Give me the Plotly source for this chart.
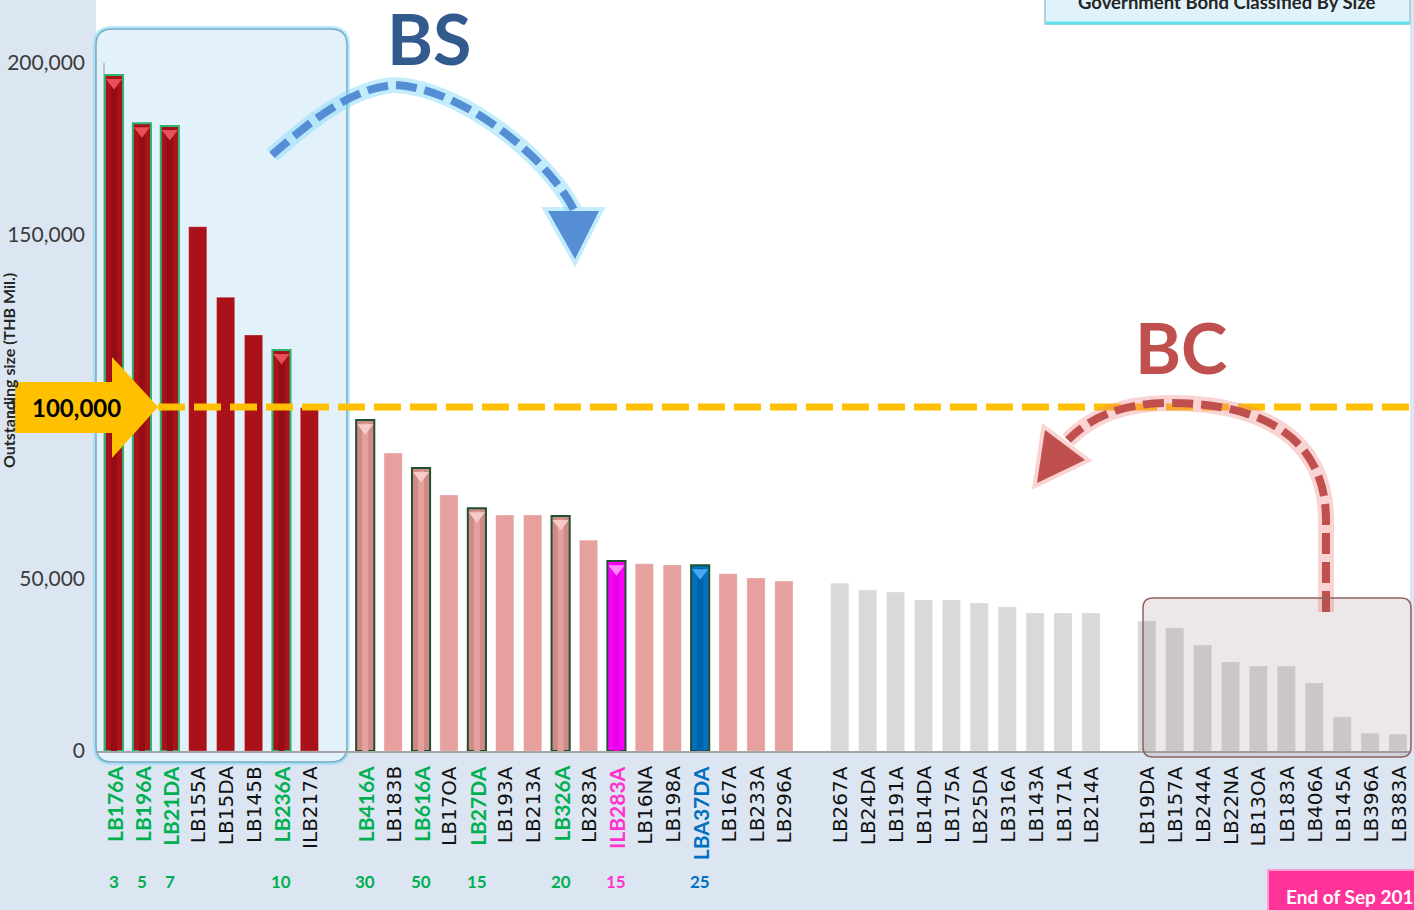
import plotly.graph_objects as go

# ---------------------------------------------------------------------------
# Outstanding size of Thai government bonds (THB million), ranked by size
# ---------------------------------------------------------------------------
GROUP_BS = ["LB176A", "LB196A", "LB21DA", "LB155A", "LB15DA", "LB145B", "LB236A", "ILB217A"]
VALUES_BS = [196500, 182500, 181700, 152400, 131900, 120900, 116600, 99800]

GROUP_MID = ["LB416A", "LB183B", "LB616A", "LB17OA", "LB27DA", "LB193A", "LB213A", "LB326A",
             "LB283A", "ILB283A", "LB16NA", "LB198A", "LBA37DA", "LB167A", "LB233A", "LB296A"]
VALUES_MID = [96200, 86600, 82300, 74400, 70600, 68600, 68600, 68300,
              61300, 55200, 54400, 54100, 54000, 51500, 50300, 49400]

GROUP_LOW = ["LB267A", "LB24DA", "LB191A", "LB14DA", "LB175A", "LB25DA", "LB316A",
             "LB143A", "LB171A", "LB214A"]
VALUES_LOW = [48800, 46800, 46200, 43900, 43900, 43000, 41900, 40100, 40100, 40100]

GROUP_BC = ["LB19DA", "LB157A", "LB244A", "LB22NA", "LB13OA", "LB183A", "LB406A",
            "LB145A", "LB396A", "LB383A"]
VALUES_BC = [37800, 35800, 30800, 25900, 24700, 24700, 19800, 9900, 5200, 4900]

# benchmark bonds and their tenors (years)
BENCHMARK_TENOR = {"LB176A": "3", "LB196A": "5", "LB21DA": "7", "LB236A": "10",
                   "LB416A": "30", "LB616A": "50", "LB27DA": "15", "LB326A": "20",
                   "ILB283A": "15", "LBA37DA": "25"}

Y_TICKS = [0, 50000, 100000, 150000, 200000]
THRESHOLD = 100000
TITLE = "Government Bond Classified By Size"
AS_OF = "End of Sep 2015"

# ---------------------------------------------------------------------------
# styling
# ---------------------------------------------------------------------------
GROUP_FILL = ["#aa1118", "#e6a09e", "#d9d9d9", "#d9d9d9"]
BENCH_FILL = ["#aa1118", "#cf8986", None, None]
BENCH_CORE = ["#930d14", "#e3a19e", None, None]
BENCH_LINE = ["#2bb673", "#1f5130", None, None]
BENCH_TIP = ["#e8505a", "#f6cbc8", None, None]
SPECIAL_FILL = {"ILB283A": "#ff00ff", "LBA37DA": "#0070c0"}
SPECIAL_CORE = {"ILB283A": "#e600e6", "LBA37DA": "#0062a8"}
SPECIAL_TIP = {"ILB283A": "#ff8cff", "LBA37DA": "#4aa8f0"}
LABEL_COLOR = {"ILB283A": "#ff33cc", "LBA37DA": "#0070c0"}
GREEN = "#00b050"

W, H = 1414, 910
ML, MR, MT, MB = 96, 4, 0, 159
PW, PH = W - ML - MR, H - MT - MB
SLOT0, SLOT = 114.0, 27.913          # pixel centre of first slot / slot pitch
Y_TOP = PH / 688.0 * 200000           # 688 px per 200,000


def to_paper(x, y):
    return (x - ML) / PW, (PH + MT - y) / PH


def px_path(spec):
    toks = spec.split()
    out, i = [], 0
    while i < len(toks):
        t = toks[i]
        if t.isalpha():
            out.append(t)
            i += 1
        else:
            x, y = to_paper(float(toks[i]), float(toks[i + 1]))
            out.append(f"{x:.5f},{y:.5f}")
            i += 2
    return " ".join(out)


def rrect(x0, y0, x1, y1, r):
    return (f"M {x0 + r} {y0} L {x1 - r} {y0} Q {x1} {y0} {x1} {y0 + r} "
            f"L {x1} {y1 - r} Q {x1} {y1} {x1 - r} {y1} L {x0 + r} {y1} "
            f"Q {x0} {y1} {x0} {y1 - r} L {x0} {y0 + r} Q {x0} {y0} {x0 + r} {y0} Z")


# ---------------------------------------------------------------------------
# bars: groups laid out left to right with one empty slot between groups
# ---------------------------------------------------------------------------
groups = [(GROUP_BS, VALUES_BS), (GROUP_MID, VALUES_MID),
          (GROUP_LOW, VALUES_LOW), (GROUP_BC, VALUES_BC)]

names, xs, ys, fills, lines, lws = [], [], [], [], [], []
core_x, core_y, core_c = [], [], []
tip_x, tip_y, tip_c = [], [], []
slot = 0
for g, (gnames, gvals) in enumerate(groups):
    for n, v in zip(gnames, gvals):
        names.append(n)
        xs.append(slot)
        ys.append(v)
        if n in BENCHMARK_TENOR:
            fills.append(SPECIAL_FILL.get(n, BENCH_FILL[g]))
            lines.append(BENCH_LINE[g])
            lws.append(2)
            core_x.append(slot)
            core_y.append(v - 900)
            core_c.append(SPECIAL_CORE.get(n, BENCH_CORE[g]))
            tip_x.append(slot)
            tip_y.append(v - 2200)
            tip_c.append(SPECIAL_TIP.get(n, BENCH_TIP[g]))
        else:
            fills.append(GROUP_FILL[g])
            lines.append("rgba(255,255,255,0.5)")
            lws.append(0.5)
        slot += 1
    slot += 1

fig = go.Figure()
fig.add_trace(go.Bar(
    x=xs, y=ys, width=0.65,
    marker=dict(color=fills, line=dict(color=lines, width=lws)),
    hovertext=names, showlegend=False,
))
# bevelled centre of the benchmark bars
fig.add_trace(go.Bar(
    x=core_x, y=core_y, width=0.22, hoverinfo="skip", showlegend=False,
    marker=dict(color=core_c, line=dict(width=0)),
))
fig.add_trace(go.Scatter(
    x=tip_x, y=tip_y, mode="markers", hoverinfo="skip", showlegend=False,
    marker=dict(symbol="triangle-down", size=14, color=tip_c, line=dict(width=0)),
))

# ---------------------------------------------------------------------------
# decorations
# ---------------------------------------------------------------------------
shapes = []
# white chart area on the blue-grey page
shapes.append(dict(type="rect", xref="paper", yref="paper", x0=0, x1=1, y0=0, y1=to_paper(0, 0)[1],
                   fillcolor="white", line=dict(width=0), layer="below"))
# BS panel
shapes.append(dict(type="path", xref="paper", yref="paper", layer="below",
                   path=px_path(rrect(96, 29, 347, 762, 16)),
                   fillcolor="rgba(0,0,0,0)", line=dict(color="rgba(120,215,245,0.5)", width=6)))
shapes.append(dict(type="path", xref="paper", yref="paper", layer="below",
                   path=px_path(rrect(96, 29, 347, 762, 16)),
                   fillcolor="#e3f2fa", line=dict(color="#79a9c6", width=1.5)))
# y axis line
x_ax, _ = to_paper(104, 0)
shapes.append(dict(type="line", xref="paper", yref="y", x0=x_ax, x1=x_ax, y0=0, y1=200000,
                   line=dict(color="#9a9a9a", width=1), layer="below"))

# threshold dashed line
x_thr0, _ = to_paper(158, 0)
shapes.append(dict(type="line", xref="paper", yref="y", x0=x_thr0, x1=1.01, y0=THRESHOLD, y1=THRESHOLD,
                   line=dict(color="#ffc000", width=7, dash="27px,9px"), layer="above"))
# threshold arrow
shapes.append(dict(type="path", xref="paper", yref="paper", layer="above",
                   path=px_path("M 15 382 L 112 382 L 112 357 L 158 407 L 112 458 L 112 433 L 15 433 Z"),
                   fillcolor="#ffc000", line=dict(width=0)))

GLOW_BS = "rgba(125,215,248,0.45)"
GLOW_BC = "rgba(240,130,130,0.35)"

# BS curved arrow
bs_path = "M 272 155 C 310 122 350 88 395 85 C 462 88 548 158 574 210"
bs_head = "M 548 211 L 599 211 L 575 259 Z"
shapes.append(dict(type="path", xref="paper", yref="paper", layer="above", path=px_path(bs_path),
                   line=dict(color=GLOW_BS, width=16)))
shapes.append(dict(type="path", xref="paper", yref="paper", layer="above", path=px_path(bs_head),
                   fillcolor=GLOW_BS, line=dict(color=GLOW_BS, width=8)))
shapes.append(dict(type="path", xref="paper", yref="paper", layer="above", path=px_path(bs_path),
                   line=dict(color="#558ed5", width=8, dash="21px,8px")))
shapes.append(dict(type="path", xref="paper", yref="paper", layer="above", path=px_path(bs_head),
                   fillcolor="#558ed5", line=dict(width=0)))

# BC curved arrow
bc_path = "M 1326 612 L 1326 520 C 1326 440 1265 403 1170 403 C 1120 403 1090 418 1068 440"
bc_head = "M 1045 430 L 1085 460 L 1037 483 Z"
shapes.append(dict(type="path", xref="paper", yref="paper", layer="above", path=px_path(bc_path),
                   line=dict(color=GLOW_BC, width=16)))
shapes.append(dict(type="path", xref="paper", yref="paper", layer="above", path=px_path(bc_head),
                   fillcolor=GLOW_BC, line=dict(color=GLOW_BC, width=8)))
shapes.append(dict(type="path", xref="paper", yref="paper", layer="above", path=px_path(bc_path),
                   line=dict(color="#c0504d", width=8, dash="21px,8px")))
shapes.append(dict(type="path", xref="paper", yref="paper", layer="above", path=px_path(bc_head),
                   fillcolor="#c0504d", line=dict(width=0)))

# BC panel overlay
shapes.append(dict(type="path", xref="paper", yref="paper", layer="above",
                   path=px_path(rrect(1143, 598, 1411, 757, 10)),
                   fillcolor="rgba(140,95,95,0.15)", line=dict(color="#8c6464", width=1.5)))

# title box at top right
shapes.append(dict(type="rect", xref="paper", yref="paper", layer="above",
                   x0=to_paper(1045, 0)[0], x1=to_paper(1410, 0)[0],
                   y0=to_paper(0, 24)[1], y1=to_paper(0, -10)[1],
                   fillcolor="#e0f2fa", line=dict(color="#9cc3d6", width=1.5)))
shapes.append(dict(type="line", xref="paper", yref="paper", layer="above",
                   x0=to_paper(1046, 0)[0], x1=to_paper(1409, 0)[0],
                   y0=to_paper(0, 23)[1], y1=to_paper(0, 23)[1],
                   line=dict(color="#5fe3ef", width=3)))

# as-of tag at bottom right
shapes.append(dict(type="rect", xref="paper", yref="paper", layer="above",
                   x0=to_paper(1268, 0)[0], x1=to_paper(1440, 0)[0],
                   y0=to_paper(0, 930)[1], y1=to_paper(0, 870)[1],
                   fillcolor="#ff3399", line=dict(color="#ff9ccc", width=2)))

annotations = []
# category labels and tenors
for n, x in zip(names, xs):
    if n in BENCHMARK_TENOR:
        col = LABEL_COLOR.get(n, GREEN)
        font = dict(family="Lato", size=21, color=col, weight="bold")
    else:
        font = dict(family="DejaVu Sans", size=20, color="#111111")
    annotations.append(dict(x=x, y=to_paper(0, 764)[1], xref="x", yref="paper", text=n,
                            textangle=-90, xanchor="center", yanchor="top", showarrow=False, font=font))
    if n in BENCHMARK_TENOR:
        annotations.append(dict(x=x, y=to_paper(0, 881)[1], xref="x", yref="paper",
                                text=BENCHMARK_TENOR[n], showarrow=False, xanchor="center",
                                yanchor="middle",
                                font=dict(family="Lato", size=17, color=LABEL_COLOR.get(n, GREEN),
                                          weight="bold")))

ax_x, ax_y = to_paper(8, 371)
annotations.append(dict(x=ax_x, y=ax_y, xref="paper", yref="paper", text="Outstanding size (THB Mil.)",
                        textangle=-90, showarrow=False, xanchor="center", yanchor="middle",
                        font=dict(family="Lato", size=16, color="#262626", weight="bold")))

tx, ty = to_paper(76, 407)
annotations.append(dict(x=tx, y=ty, xref="paper", yref="paper", text=f"{THRESHOLD:,}",
                        showarrow=False, xanchor="center", yanchor="middle",
                        font=dict(family="Lato", size=24, color="#000000", weight="bold")))

bx, by = to_paper(429, 38)
annotations.append(dict(x=bx, y=by, xref="paper", yref="paper", text="BS", showarrow=False,
                        xanchor="center", yanchor="middle",
                        font=dict(family="Lato", size=70, color="#335a8c", weight="bold")))
cx, cy = to_paper(1181, 347)
annotations.append(dict(x=cx, y=cy, xref="paper", yref="paper", text="BC", showarrow=False,
                        xanchor="center", yanchor="middle",
                        font=dict(family="Lato", size=70, color="#c0504d", weight="bold")))

hx, hy = to_paper(1227, 2)
annotations.append(dict(x=hx, y=hy, xref="paper", yref="paper", text=TITLE, showarrow=False,
                        xanchor="center", yanchor="middle",
                        font=dict(family="Lato", size=18.5, color="#262626", weight="bold")))

ex, ey = to_paper(1284, 896)
annotations.append(dict(x=ex, y=ey, xref="paper", yref="paper", text=AS_OF, showarrow=False,
                        xanchor="left", yanchor="middle",
                        font=dict(family="Lato", size=19, color="#ffffff", weight="bold")))

fig.update_layout(
    width=W, height=H,
    margin=dict(l=ML, r=MR, t=MT, b=MB, pad=0),
    paper_bgcolor="#dce6f2",
    plot_bgcolor="rgba(0,0,0,0)",
    barmode="overlay",
    shapes=shapes,
    annotations=annotations,
    xaxis=dict(range=[(ML - SLOT0) / SLOT, (ML + PW - SLOT0) / SLOT], showticklabels=False,
               showgrid=False, zeroline=False, showline=True, linecolor="#a6a6a6", linewidth=2,
               ticks="", fixedrange=True),
    yaxis=dict(range=[0, Y_TOP], tickvals=Y_TICKS, ticktext=[f"{v:,}" for v in Y_TICKS],
               showgrid=False, zeroline=False, showline=False, ticks="",
               tickfont=dict(family="Lato", size=21, color="#3a3a3a"), ticklabelstandoff=10,
               fixedrange=True),
)

fig.write_html("out.html")
